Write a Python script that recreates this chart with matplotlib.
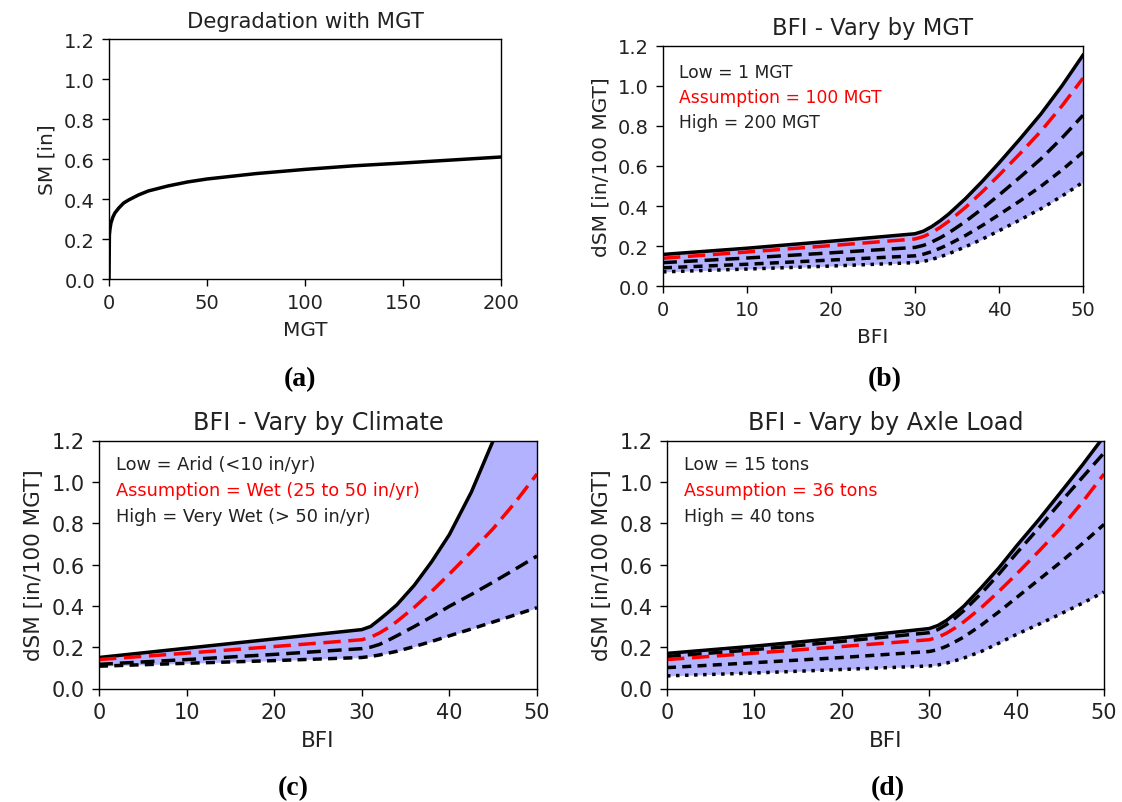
import numpy as np
import matplotlib.pyplot as plt

# ---- data ----
# (a) degradation with MGT
mgt = [0, 0.2, 0.5, 1, 2, 3, 5, 7.5, 10, 15, 20, 30, 40, 50, 75, 100, 125, 150, 175, 200]
sm = [0, 0.22, 0.25, 0.28, 0.31, 0.33, 0.355, 0.38, 0.395, 0.42, 0.44, 0.465, 0.485,
      0.50, 0.527, 0.548, 0.566, 0.58, 0.595, 0.61]

# BFI grid shared by panels b, c, d
bfi = [0, 10, 20, 30, 31, 32, 33, 34, 36, 38, 40, 42.5, 45, 47.5, 50]

# assumption curve (same in every BFI panel)
assume = [0.140, 0.171, 0.203, 0.236, 0.248, 0.268, 0.294, 0.324, 0.393, 0.471,
          0.554, 0.662, 0.774, 0.900, 1.038]

# (b) vary by MGT
b_high = [0.159, 0.190, 0.225, 0.262, 0.275, 0.298, 0.327, 0.360, 0.437, 0.523,
          0.615, 0.735, 0.860, 1.000, 1.153]
b_mid1 = [0.118, 0.141, 0.167, 0.194, 0.204, 0.221, 0.242, 0.266, 0.323, 0.387,
          0.455, 0.544, 0.636, 0.740, 0.853]
b_mid2 = [0.092, 0.110, 0.131, 0.152, 0.160, 0.173, 0.190, 0.209, 0.253, 0.303,
          0.357, 0.426, 0.499, 0.580, 0.669]
b_low = [0.072, 0.086, 0.101, 0.118, 0.124, 0.134, 0.147, 0.162, 0.197, 0.235,
         0.277, 0.331, 0.387, 0.450, 0.519]

# (c) vary by climate
c_high = [0.150, 0.195, 0.240, 0.285, 0.300, 0.333, 0.368, 0.405, 0.500, 0.615,
          0.745, 0.950, 1.200, 1.480, 1.780]
c_mid = [0.117, 0.140, 0.165, 0.193, 0.200, 0.213, 0.233, 0.255, 0.300, 0.348,
         0.398, 0.455, 0.515, 0.577, 0.641]
c_low = [0.108, 0.122, 0.135, 0.150, 0.155, 0.162, 0.171, 0.180, 0.203, 0.228,
         0.255, 0.288, 0.322, 0.356, 0.391]

# (d) vary by axle load
d_high = [0.170, 0.205, 0.245, 0.290, 0.305, 0.330, 0.363, 0.400, 0.490, 0.585,
          0.690, 0.815, 0.947, 1.080, 1.220]
d_mid1 = [0.155, 0.188, 0.228, 0.270, 0.285, 0.310, 0.342, 0.378, 0.462, 0.555,
          0.655, 0.775, 0.900, 1.020, 1.140]
d_mid2 = [0.101, 0.125, 0.150, 0.179, 0.188, 0.205, 0.227, 0.250, 0.308, 0.372,
          0.440, 0.525, 0.610, 0.700, 0.794]
d_low = [0.061, 0.075, 0.092, 0.109, 0.114, 0.123, 0.135, 0.148, 0.180, 0.220,
         0.262, 0.310, 0.360, 0.412, 0.467]

notes_b = ["Low = 1 MGT", "Assumption = 100 MGT", "High = 200 MGT"]
notes_c = ["Low = Arid (<10 in/yr)", "Assumption = Wet (25 to 50 in/yr)", "High = Very Wet (> 50 in/yr)"]
notes_d = ["Low = 15 tons", "Assumption = 36 tons", "High = 40 tons"]

plt.rcParams.update({
    'axes.linewidth': 1.0,
    'xtick.major.size': 5, 'ytick.major.size': 5,
    'xtick.major.width': 1.0, 'ytick.major.width': 1.0,
    'xtick.major.pad': 5, 'ytick.major.pad': 5,
    'axes.labelpad': 5.8, 'axes.titlepad': 8.5,
})

W, H = 1122, 803
fig = plt.figure(figsize=(W / 100, H / 100), dpi=100)


def px_axes(x0, x1, ytop, ybot):
    return fig.add_axes([x0 / W, 1 - ybot / H, (x1 - x0) / W, (ybot - ytop) / H])


LW = 2.5
RED = (0, (5, 2.2))
LONG = (0, (4, 2))
MED = (0, (2.6, 1.8))
DOT = (0, (1, 1.6))


def style(ax, title, xlabel, ylabel, tsize, fsize, lsize, xmax, xstep):
    ax.set_title(title, fontsize=tsize, color='#222222')
    ax.set_xlabel(xlabel, fontsize=lsize, color='#222222')
    ax.set_ylabel(ylabel, fontsize=lsize, color='#222222')
    ax.set_xlim(0, xmax)
    ax.set_ylim(0, 1.2)
    ax.set_xticks(np.arange(0, xmax + 1, xstep))
    ax.set_yticks(np.arange(0, 1.21, 0.2))
    ax.tick_params(labelsize=fsize, labelcolor='#222222')


def notes(ax, lines, ytop, step, size):
    cols = ['#222222', 'red', '#222222']
    for i, (s, c) in enumerate(zip(lines, cols)):
        ax.text(0.038, ytop - i * step, s, color=c, fontsize=size,
                transform=ax.transAxes, va='center', ha='left')


# (a)
ax = px_axes(109, 501, 40, 280)
ax.plot(mgt, sm, color='black', lw=LW)
style(ax, 'Degradation with MGT', 'MGT', 'SM [in]', 15.3, 14, 14.5, 200, 50)

# (b)
ax = px_axes(663, 1083, 46.7, 287.3)
ax.fill_between(bfi, b_low, b_high, color='blue', alpha=0.3, lw=0)
ax.plot(bfi, b_high, color='black', lw=LW)
ax.plot(bfi, assume, color='red', lw=LW, linestyle=RED)
ax.plot(bfi, b_mid1, color='black', lw=LW, linestyle=LONG)
ax.plot(bfi, b_mid2, color='black', lw=LW, linestyle=MED)
ax.plot(bfi, b_low, color='black', lw=LW, linestyle=DOT)
style(ax, 'BFI - Vary by MGT', 'BFI', 'dSM [in/100 MGT]', 16.3, 14, 14.5, 50, 10)
notes(ax, notes_b, 0.89, 0.104, 12.3)

# (c)
ax = px_axes(99, 537, 441.5, 689.5)
ax.fill_between(bfi, c_low, c_high, color='blue', alpha=0.3, lw=0)
ax.plot(bfi, c_high, color='black', lw=LW)
ax.plot(bfi, assume, color='red', lw=LW, linestyle=RED)
ax.plot(bfi, c_mid, color='black', lw=LW, linestyle=LONG)
ax.plot(bfi, c_low, color='black', lw=LW, linestyle=MED)
style(ax, 'BFI - Vary by Climate', 'BFI', 'dSM [in/100 MGT]', 17.2, 15, 15.5, 50, 10)
notes(ax, notes_c, 0.905, 0.105, 12.8)

# (d)
ax = px_axes(667, 1104, 441.5, 689.5)
ax.fill_between(bfi, d_low, d_high, color='blue', alpha=0.3, lw=0)
ax.plot(bfi, d_high, color='black', lw=LW)
ax.plot(bfi, d_mid1, color='black', lw=LW, linestyle=LONG)
ax.plot(bfi, assume, color='red', lw=LW, linestyle=RED)
ax.plot(bfi, d_mid2, color='black', lw=LW, linestyle=MED)
ax.plot(bfi, d_low, color='black', lw=LW, linestyle=DOT)
style(ax, 'BFI - Vary by Axle Load', 'BFI', 'dSM [in/100 MGT]', 17.2, 15, 15.5, 50, 10)
notes(ax, notes_d, 0.905, 0.105, 12.5)

# panel letters
for s, x, y in [('(a)', 300, 380), ('(b)', 885, 380), ('(c)', 293, 789), ('(d)', 888, 789)]:
    fig.text(x / W, 1 - y / H, s, fontsize=20, fontweight='bold',
             family='Liberation Serif', ha='center', va='center')

fig.savefig('out.png', dpi=100)
